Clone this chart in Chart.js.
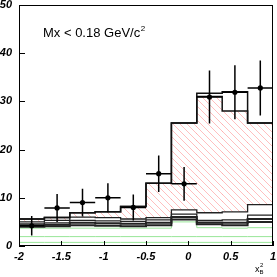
<!DOCTYPE html>
<html lang="en">
<head>
<meta charset="UTF-8">
<title>Mx &lt; 0.18 GeV/c2</title>
<script src="https://cdn.jsdelivr.net/npm/chart.js"></script>
<style>
  html, body { margin: 0; padding: 0; background: #fff; }
</style>
</head>
<body>
<canvas id="chart" width="277" height="277"></canvas>
<script>
// bins (x)
const binEdges   = [-2, -1.7, -1.4, -1.1, -0.8, -0.5, -0.2, 0.1, 0.4, 0.7, 1.0];
const binCenters = [-1.85, -1.55, -1.25, -0.95, -0.65, -0.35, -0.05, 0.25, 0.55, 0.85];

// measured points
const dataY    = [4.2, 7.9, 9.0, 10.0, 8.0, 15.0, 12.9, 30.9, 31.9, 32.8];
const dataErrY = [2.0, 2.9, 2.9, 3.0, 2.7, 3.8, 3.5, 5.5, 5.6, 5.7];
const dataErrX = [0.15, 0.15, 0.15, 0.15, 0.15, 0.15, 0.15, 0.15, 0.15, 0.15];

// histograms
const totalHist  = [5.6, 5.9, 6.9, 7.1, 8.2, 13.0, 25.5, 31.7, 32.0, 25.5];
const hatchHist  = [5.6, 5.9, 6.9, 7.1, 8.2, 13.0, 25.5, 31.0, 28.0, 25.5];
const bgHist1    = [5.0, 5.3, 6.0, 5.9, 5.6, 5.9, 7.5, 6.9, 7.1, 8.6];
const bgHist2    = [4.6, 4.8, 5.3, 5.2, 5.1, 5.4, 6.6, 5.3, 5.4, 6.4];
const bgHist3    = [4.3, 4.4, 4.8, 4.7, 4.6, 4.8, 6.0, 4.9, 4.8, 5.6];
const bgHist4    = [4.0, 4.1, 4.3, 4.2, 4.1, 4.3, 5.5, 4.5, 4.3, 5.0];
const greenHist1 = [3.7, 3.7, 3.7, 3.7, 3.7, 3.7, 5.0, 3.8, 3.7, 3.8];
const greenHist2 = [1.95, 1.95, 1.95, 1.95, 1.95, 1.95, 1.95, 1.95, 1.95, 1.95];
const greenHist3 = [0.75, 0.75, 0.75, 0.75, 0.75, 0.75, 0.75, 0.75, 0.75, 0.75];

// axes
const xTickValues = [-2, -1.5, -1, -0.5, 0, 0.5, 1];
const yTickValues = [0, 10, 20, 30, 40, 50];

const tickFont = { family: 'Liberation Sans', size: 11, weight: 'bold', style: 'italic' };

function histPoints(vals) {
    const pts = vals.map((v, i) => ({ x: binEdges[i], y: v }));
    pts.push({ x: binEdges[binEdges.length - 1], y: vals[vals.length - 1] });
    return pts;
}

function histLine(vals, color, width, order) {
    return {
        type: 'line',
        data: histPoints(vals),
        borderColor: color,
        borderWidth: width,
        stepped: true,
        pointRadius: 0,
        fill: false,
        order: order
    };
}

// red hatching
function makeHatch() {
    const c = document.createElement('canvas');
    c.width = 7; c.height = 7;
    const g = c.getContext('2d');
    g.strokeStyle = 'rgba(255, 120, 120, 0.6)';
    g.lineWidth = 0.8;
    g.beginPath();
    g.moveTo(-1, -1); g.lineTo(8, 8);
    g.moveTo(-1, 6); g.lineTo(1, 8);
    g.moveTo(6, -1); g.lineTo(8, 1);
    g.stroke();
    return g.createPattern(c, 'repeat');
}

const errorBars = {
    id: 'errorBars',
    afterDatasetsDraw(chart) {
        const { ctx, scales: { x, y } } = chart;
        ctx.save();
        ctx.strokeStyle = '#000';
        ctx.lineWidth = 1.5;
        ctx.beginPath();
        binCenters.forEach((c, i) => {
            const px = x.getPixelForValue(c);
            const py = y.getPixelForValue(dataY[i]);
            ctx.moveTo(px, y.getPixelForValue(dataY[i] + dataErrY[i]));
            ctx.lineTo(px, y.getPixelForValue(dataY[i] - dataErrY[i]));
            ctx.moveTo(x.getPixelForValue(c - dataErrX[i]), py);
            ctx.lineTo(x.getPixelForValue(c + dataErrX[i]), py);
        });
        ctx.stroke();
        ctx.restore();
    }
};

const frame = {
    id: 'frame',
    afterDraw(chart) {
        const { ctx, chartArea: a, scales: { x, y } } = chart;
        ctx.save();
        ctx.strokeStyle = '#000';
        ctx.lineWidth = 1;
        ctx.strokeRect(a.left + 0.5, a.top + 0.5, a.right - a.left - 1, a.bottom - a.top - 1);
        ctx.beginPath();
        yTickValues.forEach(v => {
            const py = Math.round(y.getPixelForValue(v)) + 0.5;
            ctx.moveTo(a.left, py); ctx.lineTo(a.left + 6, py);
        });
        xTickValues.forEach(v => {
            const px = Math.round(x.getPixelForValue(v)) + 0.5;
            ctx.moveTo(px, a.bottom); ctx.lineTo(px, a.bottom - 5);
        });
        ctx.stroke();

        // annotation
        ctx.fillStyle = '#000';
        ctx.textBaseline = 'alphabetic';
        ctx.font = '13px "Liberation Sans"';
        const label = 'Mx < 0.18 GeV/c';
        ctx.fillText(label, 43, 37);
        const w = ctx.measureText(label).width;
        ctx.font = '8px "Liberation Sans"';
        ctx.fillText('2', 43 + w + 0.5, 31);

        // axis title
        ctx.font = '9px "Liberation Sans"';
        ctx.fillText('x', 255, 272);
        ctx.font = '6px "Liberation Sans"';
        ctx.fillText('B', 259.5, 273.5);
        ctx.fillText('2', 260, 267);
        ctx.restore();
    }
};

const ctx = document.getElementById('chart').getContext('2d');
new Chart(ctx, {
    type: 'line',
    data: {
        datasets: [
            {
                type: 'line',
                data: binCenters.map((c, i) => ({ x: c, y: dataY[i] })),
                showLine: false,
                pointRadius: 2.6,
                pointBackgroundColor: '#000',
                pointBorderColor: '#000',
                pointBorderWidth: 0,
                order: 0
            },
            histLine(totalHist, '#111', 1.5, 1),
            histLine(hatchHist, '#111', 1.5, 1),
            histLine(bgHist1, '#222', 1.3, 2),
            histLine(bgHist2, '#222', 1.3, 2),
            histLine(bgHist3, '#222', 2, 2),
            histLine(bgHist4, '#222', 2, 2),
            {
                type: 'bar',
                data: binCenters.map((c, i) => ({ x: c, y: [bgHist1[i], hatchHist[i]] })),
                backgroundColor: makeHatch(),
                borderWidth: 0,
                barPercentage: 1,
                categoryPercentage: 1,
                grouped: false,
                order: 3
            },
            histLine(greenHist1, '#99e699', 1, 4),
            histLine(greenHist2, '#99e699', 1, 4),
            histLine(greenHist3, '#99e699', 1, 4)
        ]
    },
    options: {
        responsive: false,
        animation: false,
        layout: { padding: { top: 5, right: 3, left: 0, bottom: 0 } },
        plugins: { legend: { display: false }, tooltip: { enabled: false } },
        scales: {
            x: {
                type: 'linear',
                min: -2,
                max: 1,
                offset: false,
                grid: { display: false, drawTicks: false, offset: false },
                border: { display: false },
                afterBuildTicks: s => { s.ticks = xTickValues.map(v => ({ value: v })); },
                ticks: { font: tickFont, color: '#000', padding: 4, maxRotation: 0, callback: v => String(v) },
                afterFit: s => { s.height = 31; s.paddingLeft = 0; s.paddingRight = 0; }
            },
            y: {
                type: 'linear',
                min: 0,
                max: 50,
                grid: { display: false, drawTicks: false },
                border: { display: false },
                afterBuildTicks: s => { s.ticks = yTickValues.map(v => ({ value: v })); },
                ticks: { font: tickFont, color: '#000', padding: 7, callback: v => String(v) },
                afterFit: s => { s.width = 19; s.paddingTop = 0; s.paddingBottom = 0; }
            }
        }
    },
    plugins: [errorBars, frame]
});
</script>
</body>
</html>
